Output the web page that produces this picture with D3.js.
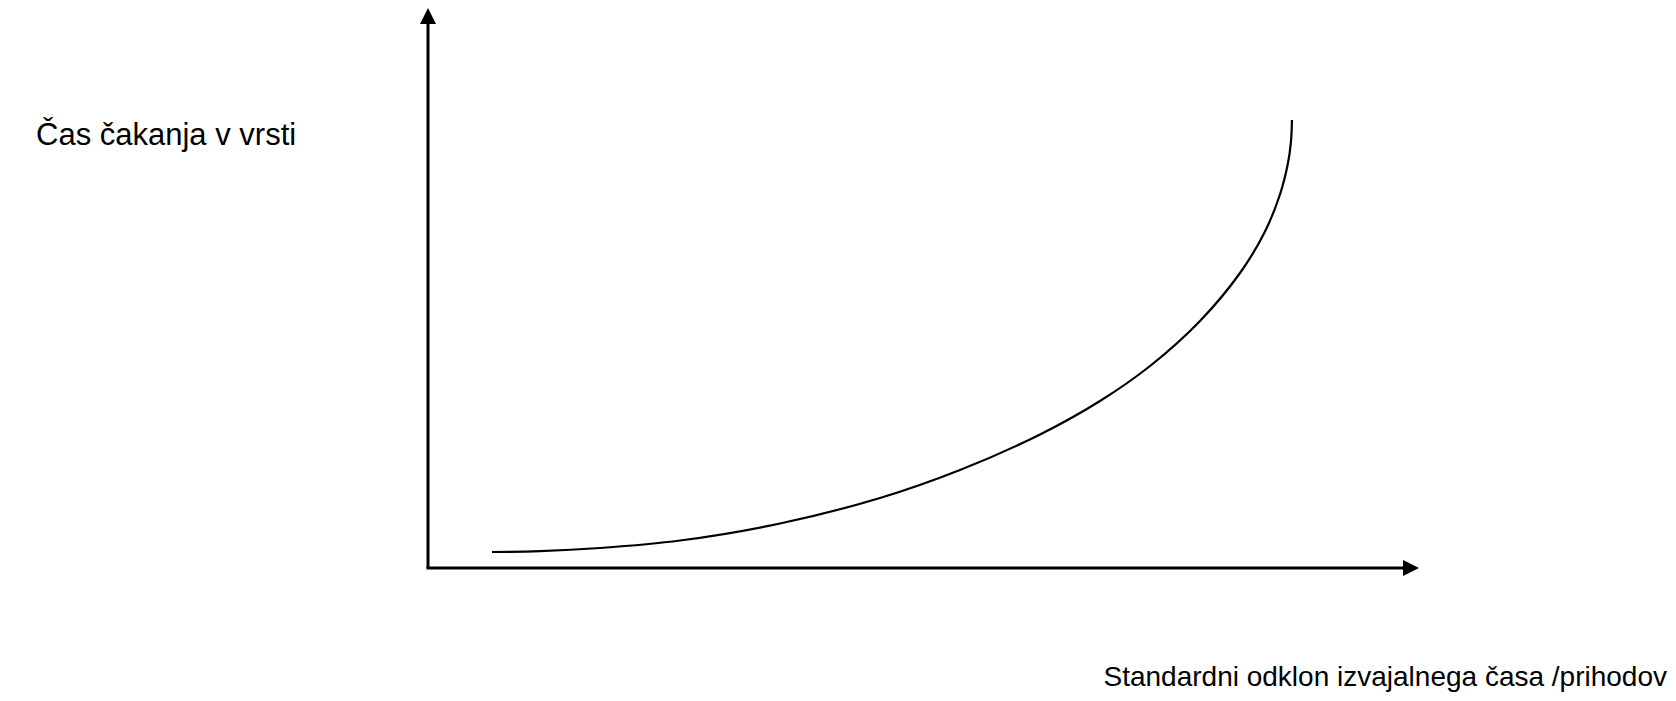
<!DOCTYPE html>
<html>
<head>
<meta charset="utf-8">
<script src="https://cdn.jsdelivr.net/npm/d3@7"></script>
<style>
  body { margin: 0; background: #fff; }
  text { font-family: "Liberation Sans", Arial, sans-serif; fill: #000; }
</style>
</head>
<body>
<div id="chart"></div>
<script>
// curve (abstract units, 0..100 on both axes)
var xVals = [6.46, 11.30, 17.36, 25.43, 35.52, 45.61, 53.68, 61.76, 67.81, 72.86, 77.90, 81.94, 84.46, 85.97, 86.78, 87.08, 87.18];
var yVals = [2.86, 3.00, 3.57, 4.91, 7.95, 12.5, 17.5, 23.84, 29.82, 36.07, 44.11, 52.68, 60.09, 66.70, 72.32, 76.14, 80.0];

var yLabel = "Čas čakanja v vrsti";
var xLabel = "Standardni odklon izvajalnega časa /prihodov";

function drawChart(divId) {

    d3.select(divId).html("");

    var width = 1676,
        height = 701;

    var svg = d3.select(divId)
        .append("svg")
        .attr("width", width)
        .attr("height", height);

    var x = d3.scaleLinear().domain([0, 100]).range([428, 1419]);
    var y = d3.scaleLinear().domain([0, 100]).range([568, 8]);

    var head = 16;

    // y axis + arrow
    svg.append("line")
        .attr("x1", x(0)).attr("y1", y(0))
        .attr("x2", x(0)).attr("y2", y(100) + head)
        .style("stroke", "#000")
        .style("stroke-width", 3);
    svg.append("path")
        .attr("d", "M" + x(0) + "," + y(100) + "L" + (x(0) - 8) + "," + (y(100) + head) + "L" + (x(0) + 8) + "," + (y(100) + head) + "Z")
        .attr("fill", "#000");

    // x axis + arrow
    svg.append("line")
        .attr("x1", x(0) - 1.5).attr("y1", y(0))
        .attr("x2", x(100) - head).attr("y2", y(0))
        .style("stroke", "#000")
        .style("stroke-width", 3);
    svg.append("path")
        .attr("d", "M" + x(100) + "," + y(0) + "L" + (x(100) - head) + "," + (y(0) - 8) + "L" + (x(100) - head) + "," + (y(0) + 8) + "Z")
        .attr("fill", "#000");

    var pts = xVals.map(function(d, i){ return [d, yVals[i]]; });

    var line = d3.line()
        .x(function(d){ return x(d[0]); })
        .y(function(d){ return y(d[1]); })
        .curve(d3.curveCatmullRom.alpha(0.5));

    svg.append("path")
        .datum(pts)
        .attr("d", line)
        .attr("fill", "none")
        .style("stroke", "#000")
        .style("stroke-width", 2.2);

    svg.append("text")
        .attr("x", 36)
        .attr("y", 145)
        .style("font-size", "31px")
        .text(yLabel);

    svg.append("text")
        .attr("x", 1667)
        .attr("y", 686)
        .attr("text-anchor", "end")
        .style("font-size", "28px")
        .text(xLabel);
}

drawChart("#chart");
</script>
</body>
</html>
